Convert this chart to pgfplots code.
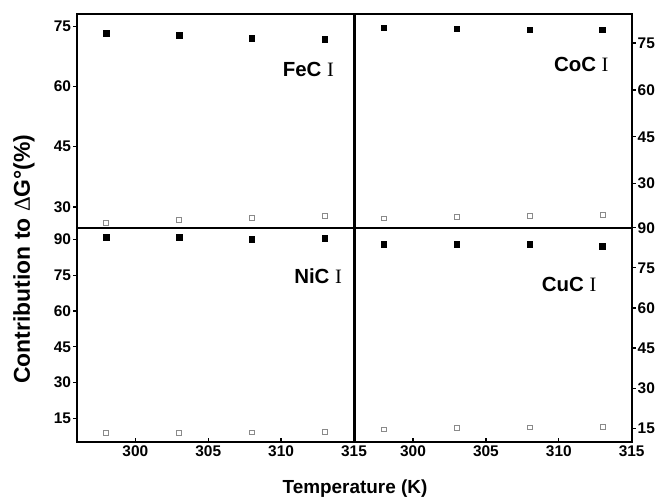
\documentclass[border=0pt]{standalone}
\usepackage{fontspec}
\setmainfont{Liberation Sans}
\newfontfamily\serifI{Liberation Serif}
\usepackage{pgfplots}
\pgfplotsset{compat=1.18}
\definecolor{OpenG}{HTML}{8A8A8A}

\pgfplotsset{
  panel/.style={scale only axis,width=277bp,height=214bp,
    xmin=296,xmax=315,clip=false,
    line width=2bp,
    axis line style={line width=2bp},
    every tick/.style={black,line width=1.3bp},
    major tick length=4bp,
    xtick align=inside,ytick align=outside,
    tick label style={font=\fontsize{15.5}{15.5}\selectfont\bfseries},
    yticklabel style={inner sep=1bp},
    /pgf/number format/assume math mode=true,
    xtick pos=bottom},
  full/.style={only marks,mark=square*,mark size=2.8bp,black,line width=0.5bp},
  hollow/.style={only marks,mark=square,mark size=2.4bp,OpenG,line width=0.7bp,mark options={line width=0.7bp}}
}
\tikzset{tag/.style={anchor=base east,inner sep=0pt,font=\fontsize{20.5}{20.5}\selectfont\bfseries}}

\begin{document}
\begin{tikzpicture}
\useasboundingbox (0,0) rectangle (655bp,-502bp);

% top left: FeC
\begin{axis}[panel,at={(77bp,-227.7bp)},anchor=south west,
  ymin=24.8,ymax=78.2,ytick={30,45,60,75},ytick pos=left,
  xtick=\empty]
\addplot[full] coordinates {(298,73.3) (303,72.8) (308,72.0) (313,71.8)};
\addplot[hollow] coordinates {(298,26.1) (303,26.7) (308,27.2) (313,27.7)};
\node[tag] at (rel axis cs:0.931,0.705) {FeC {\serifI\mdseries I}};
\end{axis}

% top right: CoC
\begin{axis}[panel,at={(354.7bp,-227.7bp)},anchor=south west,
  ymin=15.9,ymax=84.4,ytick={30,45,60,75},ytick pos=right,
  xtick=\empty]
\addplot[full] coordinates {(298,79.9) (303,79.6) (308,79.3) (313,79.3)};
\addplot[hollow] coordinates {(298,18.9) (303,19.3) (308,19.6) (313,19.9)};
\node[tag] at (rel axis cs:0.92,0.729) {CoC {\serifI\mdseries I}};
\end{axis}

% bottom left: NiC
\begin{axis}[panel,at={(77bp,-441.7bp)},anchor=south west,
  ymin=5.25,ymax=94.9,ytick={15,30,45,60,75,90},ytick pos=left,
  xtick={300,305,310,315}]
\addplot[full] coordinates {(298,90.8) (303,90.8) (308,90.1) (313,90.4)};
\addplot[hollow] coordinates {(298,9.1) (303,9.1) (308,9.2) (313,9.3)};
\node[tag] at (rel axis cs:0.96,0.737) {NiC {\serifI\mdseries I}};
\end{axis}

% bottom right: CuC
\begin{axis}[panel,at={(354.7bp,-441.7bp)},anchor=south west,
  ymin=10,ymax=90,ytick={15,30,45,60,75,90},ytick pos=right,
  xtick={300,305,310,315}]
\addplot[full] coordinates {(298,83.8) (303,83.8) (308,83.8) (313,83.1)};
\addplot[hollow] coordinates {(298,14.6) (303,15.1) (308,15.4) (313,15.7)};
\node[tag] at (rel axis cs:0.876,0.704) {CuC {\serifI\mdseries I}};
\end{axis}

\node[rotate=90,font=\fontsize{23}{23}\selectfont\bfseries] at (24bp,-259bp)
  {Contribution to {\serifI\mdseries Δ}G°(\%)};
\node[font=\fontsize{19}{19}\selectfont\bfseries] at (355bp,-489bp) {Temperature (K)};
\end{tikzpicture}
\end{document}
